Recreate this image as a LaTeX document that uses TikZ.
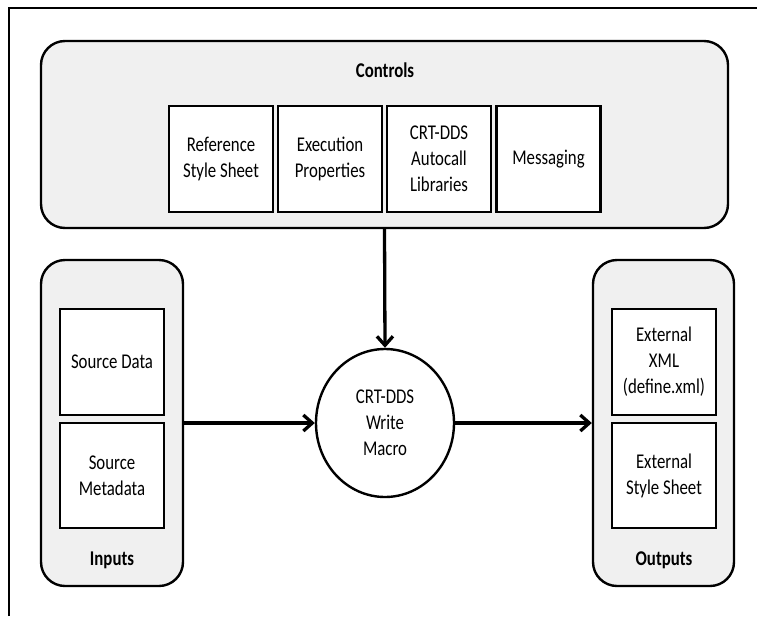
\documentclass[tikz,border=0pt]{standalone}
\usepackage{fontspec}
\setmainfont{Carlito}[FakeStretch=0.8]
\usetikzlibrary{arrows.meta,shapes.geometric}
\begin{document}
\begin{tikzpicture}[x=1pt,y=-1pt,
  every node/.style={font=\fontsize{21}{26}\selectfont},
  group/.style={draw, line width=2.4pt, fill=black!6, rounded corners=24pt, inner sep=0pt},
  item/.style={draw, line width=2.4pt, fill=white, minimum width=104pt, minimum height=106pt, align=center, inner sep=0pt},
  grouplabel/.style={font=\fontsize{21}{26}\selectfont\bfseries},
  arr/.style={line width=3.3pt, -{Straight Barb[length=9pt,width=16pt]}}]
\useasboundingbox (0,0) rectangle (757,616);
\fill[white] (0,0) rectangle (757,616);
\draw[line width=2.4pt] (9,616) -- (9,8) -- (757,8);
% Controls
\node[group, minimum width=687pt, minimum height=187pt] (controls) at (384.5,134.5) {};
\node[grouplabel] (controlslabel) at (385,70) {Controls};
\node[item] (ref) at (221,159) {Reference\\Style Sheet};
\node[item] (exec) at (330,159) {Execution\\Properties};
\node[item] (auto) at (439,159) {CRT-DDS\\Autocall\\Libraries};
\node[item] (msg) at (548.5,159) {Messaging};
% Inputs
\node[group, minimum width=142pt, minimum height=326pt] (inputs) at (112,423) {};
\node[item] (srcdata) at (112,362) {Source Data};
\node[item, minimum height=105pt] (srcmeta) at (112,475.5) {Source\\Metadata};
\node[grouplabel] (inputslabel) at (112,560) {Inputs};
% Outputs
\node[group, minimum width=141pt, minimum height=326pt] (outputs) at (663.5,423) {};
\node[item] (extxml) at (664,362) {External\\XML\\(define.xml)};
\node[item, minimum height=105pt] (extstyle) at (664,475.5) {External\\Style Sheet};
\node[grouplabel] (outputslabel) at (664,560) {Outputs};
% Macro
\node[draw, ellipse, line width=2.4pt, fill=white, minimum width=138pt, minimum height=148pt, inner sep=0pt, align=center] (macro) at (385,423) {CRT-DDS\\Write\\Macro};
% Arrows
\draw[arr] (controls.south) -- (macro.north);
\draw[arr] (inputs.east) -- (macro.west);
\draw[arr] (macro.east) -- (outputs.west);
\end{tikzpicture}
\end{document}
